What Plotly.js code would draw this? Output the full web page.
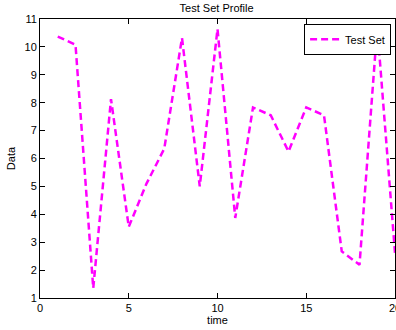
<!DOCTYPE html>
<html>
<head>
<meta charset="utf-8">
<script src="https://cdn.plot.ly/plotly-3.0.1.min.js"></script>
<style>
  html, body { margin: 0; padding: 0; background: #fff; }
  #chart { width: 396px; height: 330px; }
</style>
</head>
<body>
<div id="chart"></div>
<script>
// Test set profile: one value per time step
const time = [1, 2, 3, 4, 5, 6, 7, 8, 9, 10, 11, 12, 13, 14, 15, 16, 17, 18, 19, 20];
const testSet = [10.37, 10.08, 1.35, 8.13, 3.55, 5.1, 6.35, 10.32, 5.0, 10.64,
                 3.87, 7.83, 7.55, 6.25, 7.83, 7.55, 2.67, 2.19, 10.7, 2.62];
const xTicks = [0, 5, 10, 15, 20];
const yTicks = [1, 2, 3, 4, 5, 6, 7, 8, 9, 10, 11];

const font = { family: 'Liberation Sans, Arial, sans-serif', size: 11, color: '#000' };

const trace = {
  x: time,
  y: testSet,
  type: 'scatter',
  mode: 'lines',
  name: 'Test Set',
  line: { color: '#ff00ff', width: 2.5, dash: '7px,4px' }
};

const axisCommon = {
  showline: true,
  linecolor: '#000',
  linewidth: 1,
  mirror: 'ticks',
  ticks: 'inside',
  ticklen: 5,
  tickcolor: '#000',
  showgrid: false,
  zeroline: false,
  ticklabeloverflow: 'allow',
  tickfont: { family: font.family, size: 11, color: '#000' }
};

const layout = {
  width: 396,
  height: 330,
  margin: { l: 40, r: 1, t: 19, b: 32 },
  paper_bgcolor: '#fff',
  plot_bgcolor: '#fff',
  font: font,
  title: {
    text: 'Test Set Profile',
    font: { family: font.family, size: 11, color: '#000' },
    x: 0.547, xanchor: 'center',
    y: 0.975, yanchor: 'middle'
  },
  xaxis: Object.assign({}, axisCommon, {
    range: [0, 20],
    tickvals: xTicks,
    ticktext: xTicks.map(String),
    title: { text: 'time', font: { family: font.family, size: 11, color: '#000' }, standoff: 2 }
  }),
  yaxis: Object.assign({}, axisCommon, {
    range: [1, 11],
    tickvals: yTicks,
    ticktext: yTicks.map(String),
    title: { text: 'Data', font: { family: font.family, size: 11, color: '#000' }, standoff: 6 }
  }),
  showlegend: true,
  legend: {
    x: 0.989, xanchor: 'right',
    y: 0.983, yanchor: 'top',
    bgcolor: '#fff',
    bordercolor: '#000',
    borderwidth: 1,
    font: { family: font.family, size: 11, color: '#000' },
    itemwidth: 30,
    tracegroupgap: 0
  }
};

Plotly.newPlot('chart', [trace], layout, { staticPlot: true, displayModeBar: false });
</script>
</body>
</html>
